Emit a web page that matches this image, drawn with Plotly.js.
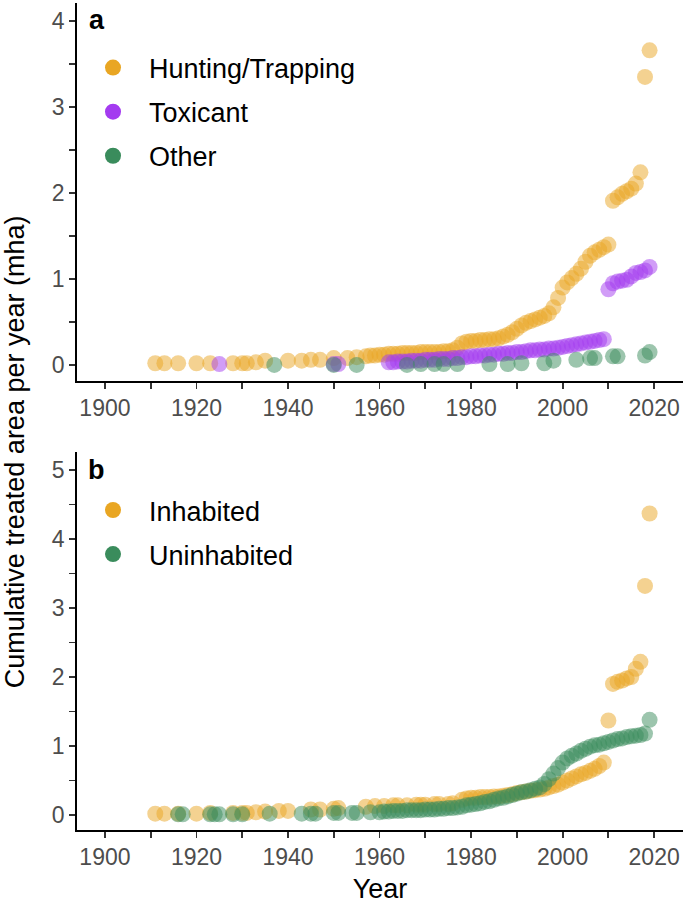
<!DOCTYPE html>
<html>
<head>
<meta charset="utf-8">
<script src="https://cdn.plot.ly/plotly-3.0.1.min.js"></script>
<style>html,body{margin:0;padding:0;background:#fff;}#chart{width:685px;height:907px;}</style>
</head>
<body>
<div id="chart"></div>
<script>
// ---- Panel a: by method ----
const huntYears = [1911,1913,1916,1920,1923,1928,1930,1931,1933,1935,1940,1943,1945,1947,1950,1953,1955,1957,1958,1959,
  1960,1961,1962,1963,1964,1965,1966,1967,1968,1969,1970,1971,1972,1973,1974,1975,1976,1977,1978,1979,
  1980,1981,1982,1983,1984,1985,1986,1987,1988,1989,1990,1991,1992,1993,1994,1995,1996,1997,1998,1999,
  2000,2001,2002,2003,2004,2005,2006,2007,2008,2009,2010,2011,2012,2013,2014,2015,2016,2017,2018,2019];
const huntArea = [0.02,0.02,0.02,0.02,0.02,0.02,0.02,0.02,0.03,0.05,0.05,0.05,0.06,0.06,0.08,0.08,0.09,0.10,0.11,0.11,
  0.12,0.12,0.13,0.13,0.13,0.14,0.14,0.14,0.14,0.15,0.15,0.15,0.15,0.15,0.16,0.16,0.17,0.20,0.25,0.27,
  0.28,0.28,0.29,0.29,0.30,0.30,0.31,0.33,0.35,0.38,0.42,0.46,0.49,0.51,0.53,0.55,0.57,0.60,0.67,0.78,
  0.90,0.96,1.01,1.06,1.12,1.20,1.27,1.31,1.34,1.37,1.40,1.91,1.95,1.99,2.02,2.05,2.11,2.24,3.35,3.66];

const toxYears = [1925,1950,1951,1962,1963,1964,1965,1966,1967,1968,1969,1970,1971,1972,1973,1974,1975,1976,1977,1978,1979,
  1980,1981,1982,1983,1984,1985,1986,1987,1988,1989,1990,1991,1992,1993,1994,1995,1996,1997,1998,1999,
  2000,2001,2002,2003,2004,2005,2006,2007,2008,2009,2010,2011,2012,2013,2014,2015,2016,2017,2018,2019];
const toxArea = [0.01,0.01,0.01,0.03,0.03,0.04,0.04,0.04,0.05,0.05,0.05,0.06,0.06,0.06,0.07,0.07,0.07,0.08,0.08,0.09,0.09,
  0.10,0.10,0.11,0.11,0.12,0.12,0.13,0.13,0.14,0.14,0.15,0.15,0.16,0.17,0.17,0.18,0.18,0.19,0.19,0.20,
  0.21,0.22,0.23,0.24,0.25,0.26,0.27,0.28,0.29,0.30,0.88,0.95,0.97,0.98,0.99,1.03,1.07,1.08,1.10,1.14];

const otherYears = [1937,1950,1955,1966,1969,1972,1974,1977,1984,1988,1991,1996,1998,2003,2006,2007,2011,2012,2018,2019];
const otherArea  = [0.00,0.00,0.00,0.00,0.01,0.01,0.01,0.01,0.01,0.01,0.02,0.02,0.05,0.06,0.08,0.08,0.10,0.10,0.11,0.15];

// ---- Panel b: by island status ----
const inhabYears = [1911,1913,1916,1920,1923,1928,1930,1931,1933,1935,1938,1940,1945,1947,1950,1951,1957,1959,1961,1963,1964,1966,
  1968,1969,1970,1972,1973,1975,1976,1978,1979,1980,1981,1982,1983,1984,1985,1986,1987,1988,1989,
  1990,1991,1992,1993,1994,1995,1996,1997,1998,1999,2000,2001,2002,2003,2004,2005,2006,2007,2008,2009,
  2010,2011,2012,2013,2014,2015,2016,2017,2018,2019];
const inhabArea = [0.02,0.02,0.02,0.02,0.03,0.03,0.03,0.03,0.04,0.05,0.06,0.06,0.08,0.08,0.09,0.10,0.12,0.13,0.13,0.14,0.14,0.14,
  0.15,0.15,0.15,0.16,0.16,0.16,0.17,0.22,0.24,0.25,0.25,0.26,0.26,0.26,0.27,0.27,0.28,0.29,0.30,
  0.32,0.33,0.34,0.35,0.36,0.37,0.38,0.40,0.42,0.44,0.47,0.50,0.53,0.56,0.59,0.61,0.64,0.67,0.71,0.76,
  1.37,1.90,1.93,1.95,1.98,2.00,2.12,2.22,3.32,4.37];

const uninhYears = [1916,1917,1923,1924,1925,1928,1930,1936,1943,1945,1946,1950,1951,1954,1955,1958,1960,
  1961,1962,1963,1964,1965,1966,1967,1968,1969,1970,1971,1972,1973,1974,1975,1976,1977,1978,1979,
  1980,1981,1982,1983,1984,1985,1986,1987,1988,1989,1990,1991,1992,1993,1994,1995,1996,1997,1998,1999,
  2000,2001,2002,2003,2004,2005,2006,2007,2008,2009,2010,2011,2012,2013,2014,2015,2016,2017,2018,2019];
const uninhArea = [0.01,0.01,0.01,0.01,0.01,0.01,0.01,0.02,0.02,0.02,0.02,0.03,0.03,0.03,0.03,0.04,0.04,
  0.05,0.05,0.06,0.06,0.06,0.07,0.07,0.07,0.07,0.08,0.08,0.08,0.09,0.09,0.10,0.10,0.11,0.12,0.14,
  0.15,0.16,0.17,0.19,0.20,0.22,0.24,0.25,0.27,0.29,0.31,0.33,0.34,0.36,0.38,0.40,0.45,0.52,0.60,0.68,
  0.76,0.82,0.86,0.89,0.93,0.96,0.99,1.01,1.02,1.04,1.06,1.08,1.10,1.11,1.13,1.14,1.15,1.16,1.18,1.38];

const xTickVals = [1900,1910,1920,1930,1940,1950,1960,1970,1980,1990,2000,2010,2020];
const xTickText = ['1900','','1920','','1940','','1960','','1980','','2000','','2020'];
const yaTickVals = [0,0.5,1,1.5,2,2.5,3,3.5,4];
const yaTickText = ['0','','1','','2','','3','','4'];
const ybTickVals = [0,0.5,1,1.5,2,2.5,3,3.5,4,4.5,5];
const ybTickText = ['0','','1','','2','','3','','4','','5'];

const ORANGE = '#E9A623', PURPLE = '#A43BF0', GREEN = '#3A8C5C';
const FONT = 'Liberation Sans, Arial, sans-serif';
const MS = 16, OP = 0.5;

function pts(x, y, color, xa, ya) {
  return {type:'scatter', mode:'markers', x:x, y:y, xaxis:xa, yaxis:ya, showlegend:false, hoverinfo:'skip',
    marker:{size:MS, color:color, opacity:OP, line:{width:0}}};
}
function leg(name, color, legendId, group) {
  return {type:'scatter', mode:'markers', x:[null], y:[null], name:name, legend:legendId, legendgroup:group,
    showlegend:true, xaxis: legendId==='legend' ? 'x' : 'x2', yaxis: legendId==='legend' ? 'y' : 'y2',
    marker:{size:20, color:color, line:{width:0}}};
}

const data = [
  pts(huntYears, huntArea, ORANGE, 'x', 'y'),
  pts(toxYears, toxArea, PURPLE, 'x', 'y'),
  pts(otherYears, otherArea, GREEN, 'x', 'y'),
  pts(inhabYears, inhabArea, ORANGE, 'x2', 'y2'),
  pts(uninhYears, uninhArea, GREEN, 'x2', 'y2'),
  leg('Hunting/Trapping', ORANGE, 'legend', 'g1'),
  leg('Toxicant', PURPLE, 'legend', 'g2'),
  leg('Other', GREEN, 'legend', 'g3'),
  leg('Inhabited', ORANGE, 'legend2', 'g4'),
  leg('Uninhabited', GREEN, 'legend2', 'g5')
];

const xCommon = {range:[1893.9, 2026.3], tickvals:xTickVals, ticktext:xTickText, showline:true, linecolor:'#000', linewidth:1.8,
  ticks:'outside', ticklen:6, tickwidth:1.8, tickcolor:'#333', showgrid:false, zeroline:false,
  tickfont:{size:23, color:'#4d4d4d', family:FONT}, automargin:false};
const yCommon = {showline:true, linecolor:'#000', linewidth:1.8, ticks:'outside', ticklen:6, tickwidth:1.8, tickcolor:'#333',
  showgrid:false, zeroline:false, tickfont:{size:23, color:'#4d4d4d', family:FONT}, automargin:false};

const legCommon = {x:0, xanchor:'left', yanchor:'top', font:{size:27, family:FONT, color:'#000'}, itemwidth:62,
  traceorder:'grouped', tracegroupgap:6, bgcolor:'rgba(0,0,0,0)', borderwidth:0, itemsizing:'trace'};

const layout = {
  width:685, height:907, margin:{l:77, r:2, t:3, b:77}, paper_bgcolor:'#fff', plot_bgcolor:'#fff',
  font:{family:FONT},
  showlegend:true,
  xaxis: Object.assign({}, xCommon, {anchor:'y', domain:[0,1]}),
  yaxis: Object.assign({}, yCommon, {anchor:'x', domain:[0.543,1], range:[-0.186, 4.21], tickvals:yaTickVals, ticktext:yaTickText}),
  xaxis2: Object.assign({}, xCommon, {anchor:'y2', domain:[0,1], title:{text:'Year', font:{size:27, color:'#000', family:FONT}, standoff:10}}),
  yaxis2: Object.assign({}, yCommon, {anchor:'x2', domain:[0,0.457], range:[-0.217, 5.26], tickvals:ybTickVals, ticktext:ybTickText}),
  legend: Object.assign({}, legCommon, {y:0.951}),
  legend2: Object.assign({}, legCommon, {y:0.416}),
  annotations:[
    {text:'<b>a</b>', xref:'paper', yref:'paper', x:0.033, y:0.979, xanchor:'center', yanchor:'middle', showarrow:false, font:{size:27, color:'#000', family:FONT}},
    {text:'<b>b</b>', xref:'paper', yref:'paper', x:0.033, y:0.435, xanchor:'center', yanchor:'middle', showarrow:false, font:{size:27, color:'#000', family:FONT}},
    {text:'Cumulative treated area per year (mha)', xref:'paper', yref:'paper', x:-0.102, y:0.457, xanchor:'center', yanchor:'middle', textangle:-90, showarrow:false, font:{size:27, color:'#000', family:FONT}}
  ]
};

Plotly.newPlot('chart', data, layout, {displayModeBar:false, staticPlot:true});
</script>
</body>
</html>
